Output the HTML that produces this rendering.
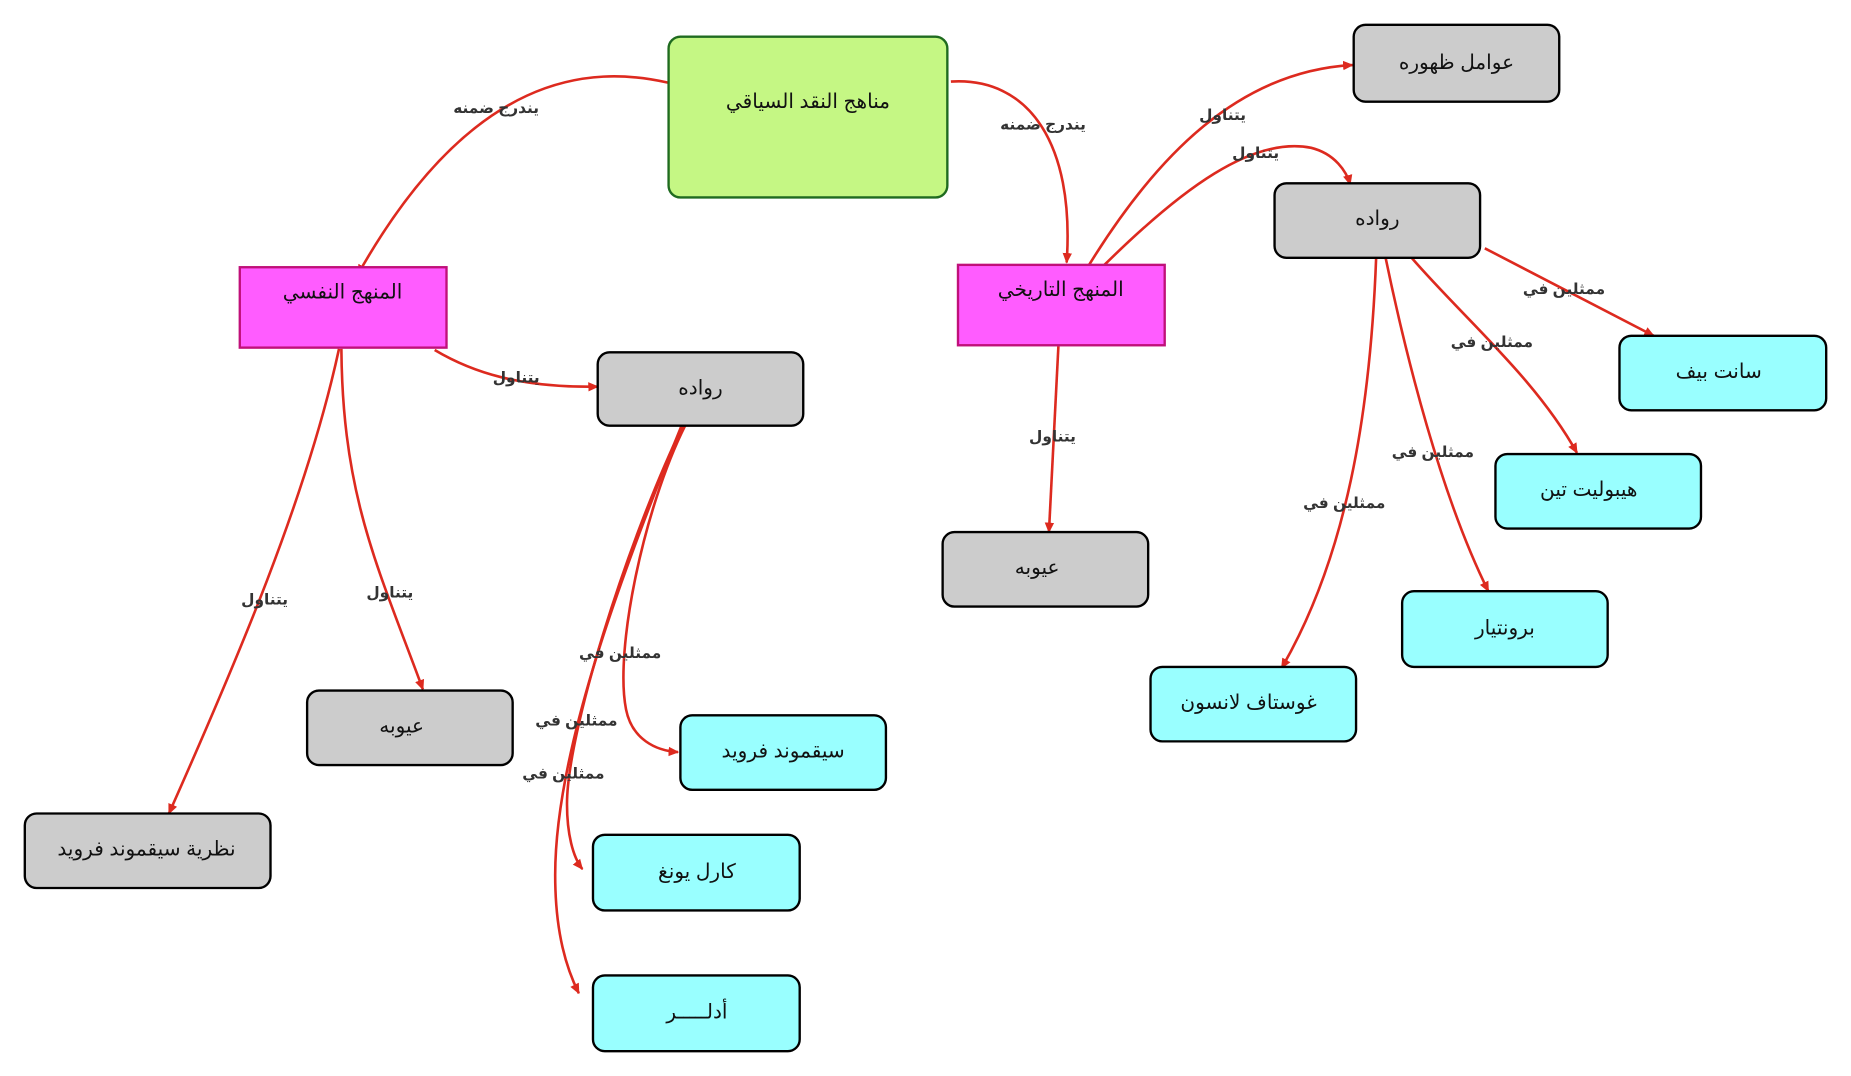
<!DOCTYPE html>
<html><head><meta charset="utf-8"><style>
html,body{margin:0;padding:0;background:#fff;}
svg{display:block}
text{font-family:"Liberation Sans","DejaVu Sans",sans-serif;}
.n{font-size:17px;fill:#111;text-anchor:middle;dominant-baseline:middle}
.l{font-size:13px;font-weight:bold;fill:#333;text-anchor:middle;dominant-baseline:middle}
.e{fill:none;stroke:#dd2a1f;stroke-width:2.2}
</style></head><body>
<svg width="1851" height="1076" viewBox="0 0 1567 910" preserveAspectRatio="none" xmlns="http://www.w3.org/2000/svg">
<defs><marker id="a" markerWidth="10" markerHeight="10" refX="8" refY="5" orient="auto" markerUnits="userSpaceOnUse"><path d="M0,1 L9,5 L0,9 z" fill="#dd2a1f"/></marker></defs>

<g class="e" marker-end="url(#a)">
<path d="M566,70 C500,55 400,60 303,232"/>
<path d="M805,69 C870,65 910,120 903,222"/>
<path d="M922,224 C980,130 1050,60 1145,55"/>
<path d="M935,224 C1000,160 1060,115 1110,125 C1130,130 1140,145 1143,156"/>
<path d="M368,296 C400,315 440,328 506,327"/>
<path d="M287,295 C260,420 200,560 143,688"/>
<path d="M289,295 C290,420 320,480 358,583"/>
<path d="M896,293 L888,450"/>
<path d="M1257,210 L1400,284"/>
<path d="M1195,218 C1240,270 1300,320 1335,383"/>
<path d="M1173,218 C1190,300 1220,420 1260,500"/>
<path d="M1165,218 C1160,350 1140,470 1085,565"/>
<path d="M580,360 C545,430 520,550 530,600 C535,625 555,635 574,636"/>
<path d="M578,360 C530,460 480,620 480,680 C480,705 485,725 493,735"/>
<path d="M577,360 C520,500 470,640 470,740 C470,790 480,820 490,840"/>
</g>

<g class="l">
<text x="420" y="92">يندرج ضمنه</text>
<text x="883" y="106">يندرج ضمنه</text>
<text x="1035" y="98">يتناول</text>
<text x="1063" y="130">يتناول</text>
<text x="437" y="320">يتناول</text>
<text x="224" y="508">يتناول</text>
<text x="330" y="502">يتناول</text>
<text x="891" y="370">يتناول</text>
<text x="1324" y="245">ممثلين في</text>
<text x="1263" y="290">ممثلين في</text>
<text x="1213" y="383">ممثلين في</text>
<text x="1138" y="426">ممثلين في</text>
<text x="525" y="553">ممثلين في</text>
<text x="488" y="610">ممثلين في</text>
<text x="477" y="655">ممثلين في</text>
</g>

<rect x="566" y="31" width="236" height="136" rx="10" fill="#c5f784" stroke="#1f6b1f" stroke-width="2"/>
<text class="n" x="684" y="87">مناهج النقد السياقي</text>

<rect x="203" y="226" width="175" height="68" fill="#ff5cff" stroke="#c0107a" stroke-width="2"/>
<text class="n" x="290" y="248">المنهج النفسي</text>
<rect x="811" y="224" width="175" height="68" fill="#ff5cff" stroke="#c0107a" stroke-width="2"/>
<text class="n" x="898" y="246">المنهج التاريخي</text>

<g fill="#cccccc" stroke="#000" stroke-width="2">
<rect x="1146" y="21" width="174" height="65" rx="10"/>
<rect x="1079" y="155" width="174" height="63" rx="10"/>
<rect x="506" y="298" width="174" height="62" rx="10"/>
<rect x="798" y="450" width="174" height="63" rx="10"/>
<rect x="260" y="584" width="174" height="63" rx="10"/>
<rect x="21" y="688" width="208" height="63" rx="10"/>
</g>
<g fill="#99ffff" stroke="#000" stroke-width="2">
<rect x="1371" y="284" width="175" height="63" rx="10"/>
<rect x="1266" y="384" width="174" height="63" rx="10"/>
<rect x="1187" y="500" width="174" height="64" rx="10"/>
<rect x="974" y="564" width="174" height="63" rx="10"/>
<rect x="576" y="605" width="174" height="63" rx="10"/>
<rect x="502" y="706" width="175" height="64" rx="10"/>
<rect x="502" y="825" width="175" height="64" rx="10"/>
</g>
<g class="n">
<text x="1233" y="54">عوامل ظهوره</text>
<text x="1166" y="186">رواده</text>
<text x="593" y="329">رواده</text>
<text x="878" y="481">عيوبه</text>
<text x="340" y="615">عيوبه</text>
<text x="124" y="719">نظرية سيقموند فرويد</text>
<text x="1455" y="315">سانت بيف</text>
<text x="1345" y="415">هيبوليت تين</text>
<text x="1274" y="532">برونتيار</text>
<text x="1057" y="595">غوستاف لانسون</text>
<text x="663" y="636">سيقموند فرويد</text>
<text x="590" y="738">كارل يونغ</text>
<text x="590" y="857">أدلـــــر</text>
</g>
</svg>
</body></html>
